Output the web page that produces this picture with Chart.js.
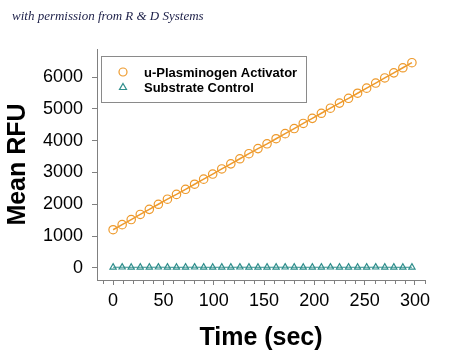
<!DOCTYPE html>
<html>
<head>
<meta charset="utf-8">
<script src="https://cdn.jsdelivr.net/npm/chart.js@4/dist/chart.umd.min.js"></script>
<style>
  html, body { margin: 0; padding: 0; background: #fff; }
  #wrap { position: relative; width: 450px; height: 354px; }
  #note { position: absolute; left: 12px; top: 8px; font: italic 13px "Liberation Serif", serif; color: #1c1f48; white-space: nowrap; }
</style>
</head>
<body>
<div id="wrap">
  <canvas id="thisChart" width="450" height="354"></canvas>
  <div id="note">with permission from R &amp; D Systems</div>
</div>
<script>
// data
let times = [0, 9, 18, 27, 36, 45, 54, 63, 72, 81, 90, 99, 108, 117, 126, 135, 144,
             153, 162, 171, 180, 189, 198, 207, 216, 225, 234, 243, 252, 261, 270, 279, 288, 297]
let upa = [1200, 1360, 1520, 1680, 1840, 2000, 2160, 2310, 2470, 2630, 2790, 2950, 3110, 3270,
           3430, 3590, 3750, 3900, 4060, 4220, 4380, 4540, 4700, 4860, 5020, 5180, 5330, 5490,
           5650, 5810, 5970, 6130, 6290, 6450]
let control = [20, 22, 19, 21, 20, 23, 20, 18, 21, 22, 20, 19, 21, 20, 22, 21, 19,
               20, 21, 22, 20, 19, 21, 20, 22, 20, 21, 19, 20, 22, 21, 20, 19, 21]
let seriesNames = ["u-Plasminogen Activator", "Substrate Control"]
let xTicks = [0, 50, 100, 150, 200, 250, 300]
let yTicks = [0, 1000, 2000, 3000, 4000, 5000, 6000]

const orange = "#ee9a2c"
const teal = "#2f8e8c"
const axisGray = "#808080"

function pts(xs, ys){
  return xs.map((x, i) => ({x: x, y: ys[i]}))
}

// minor ticks on the x axis every 10 sec
const minorTicks = {
  id: "minorTicks",
  afterDraw(chart){
    const sx = chart.scales.x, ctx = chart.ctx
    const y0 = chart.chartArea.bottom
    ctx.save()
    ctx.strokeStyle = axisGray
    ctx.lineWidth = 1
    for (let v = -10; v <= 310; v += 10){
      if (v % 50 === 0) continue
      const px = Math.round(sx.getPixelForValue(v)) + 0.5
      ctx.beginPath()
      ctx.moveTo(px, y0)
      ctx.lineTo(px, y0 + 4)
      ctx.stroke()
    }
    ctx.restore()
  }
}

// boxed legend inside the plot
const boxLegend = {
  id: "boxLegend",
  afterDraw(chart){
    const ctx = chart.ctx
    ctx.save()
    ctx.strokeStyle = "#8a8a8a"
    ctx.lineWidth = 1
    ctx.strokeRect(101.5, 56.5, 205, 46)
    ctx.font = "bold 13px 'Liberation Sans', Arial, sans-serif"
    ctx.textBaseline = "middle"
    ctx.fillStyle = "#000"
    chart.data.datasets.forEach((ds, i) => {
      const y = 72 + i * 15
      ctx.strokeStyle = ds.borderColor
      ctx.lineWidth = 1.2
      ctx.beginPath()
      if (ds.pointStyle === "triangle"){
        ctx.moveTo(123, y - 3.5)
        ctx.lineTo(126.5, y + 2.5)
        ctx.lineTo(119.5, y + 2.5)
        ctx.closePath()
      } else {
        ctx.arc(123, y, 4, 0, Math.PI * 2)
      }
      ctx.stroke()
      ctx.fillText(ds.label, 144, y + 1)
    })
    ctx.restore()
  }
}

const data = {
  datasets: [
    {
      label: seriesNames[0],
      data: pts(times, upa),
      showLine: true,
      borderColor: orange,
      borderWidth: 1.5,
      pointStyle: "circle",
      pointRadius: 4.2,
      pointBorderWidth: 1.2,
      pointBackgroundColor: "rgba(0,0,0,0)",
      pointBorderColor: orange,
    },
    {
      label: seriesNames[1],
      data: pts(times, control),
      showLine: true,
      borderColor: teal,
      borderWidth: 1,
      pointStyle: "triangle",
      pointRadius: 3.6,
      pointBorderWidth: 1.2,
      pointBackgroundColor: "rgba(0,0,0,0)",
      pointBorderColor: teal,
    }
  ]
}

const tickFont = { family: "'Liberation Sans', Arial, sans-serif", size: 18 }
const titleFont = { family: "'Liberation Sans', Arial, sans-serif", size: 25, weight: "bold" }

const config = {
  type: "scatter",
  data,
  options: {
    responsive: false,
    animation: false,
    layout: { padding: { left: 0, right: 25, top: 49, bottom: 0 } },
    plugins: {
      legend: { display: false },
      tooltip: { enabled: false },
    },
    scales: {
      x: {
        type: "linear",
        min: -16,
        max: 310,
        afterFit: (s) => { s.height = 74 },
        afterBuildTicks: (s) => { s.ticks = xTicks.map(v => ({value: v})) },
        ticks: {
          color: "#000",
          padding: 5,
          maxRotation: 0,
          font: tickFont,
          callback: (v) => String(v),
        },
        grid: { drawOnChartArea: false, tickLength: 5, color: axisGray },
        border: { color: axisGray, width: 1 },
        title: {
          display: true,
          text: "Time (sec)",
          color: "#000",
          padding: { top: 0, bottom: 1 },
          font: titleFont,
        },
      },
      y: {
        min: -380,
        max: 6880,
        afterFit: (s) => { s.width = 97 },
        afterBuildTicks: (s) => { s.ticks = yTicks.map(v => ({value: v})) },
        ticks: {
          color: "#000",
          padding: 9,
          font: tickFont,
          callback: (v) => String(v),
        },
        grid: { drawOnChartArea: false, tickLength: 5, color: axisGray },
        border: { color: axisGray, width: 1 },
        title: {
          display: true,
          text: "Mean RFU",
          color: "#000",
          padding: { top: 3, bottom: 0 },
          font: titleFont,
        },
      },
    },
  },
  plugins: [minorTicks, boxLegend],
}

const chart = new Chart(document.getElementById("thisChart").getContext("2d"), config)
</script>
</body>
</html>
